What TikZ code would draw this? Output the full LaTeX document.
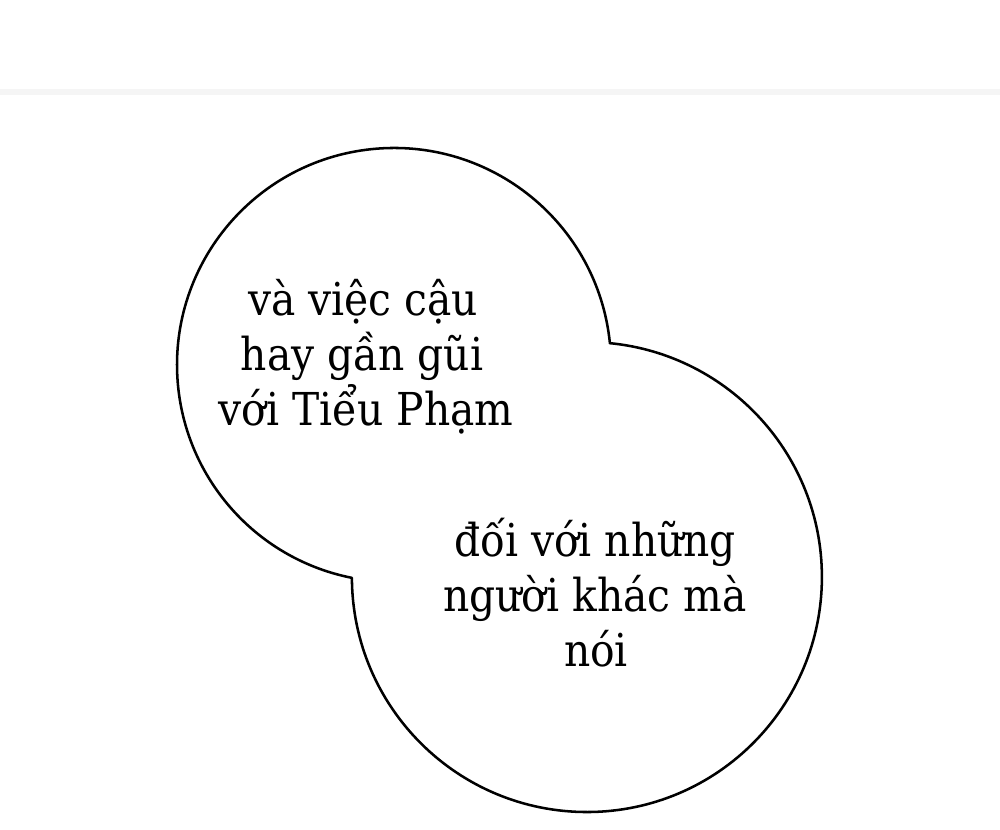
\documentclass[tikz,border=0pt]{standalone}
\usepackage{fontspec}
\setmainfont{DejaVu Serif}[FakeStretch=0.9]
\begin{document}
\begin{tikzpicture}[x=0.75pt,y=0.75pt,
  bubble/.style={draw=black,line width=1.9pt,fill=white,line join=round},
  said/.style={anchor=base,inner sep=0pt,font=\fontsize{34}{42}\selectfont,text=black}]
\fill[white] (0,0) rectangle (1000,830);
\useasboundingbox (0,0) rectangle (1000,830);
\draw[black!4,line width=4pt] (0,738) -- (1000,738);
% speech bubble: union of two circles
\coordinate (U) at (394,465);
\coordinate (L) at (587,253);
\coordinate (I1) at (609.9,486.9);
\path[bubble] (I1) arc[start angle=5.79,end angle=258.81,radius=217]
  arc[start angle=180.2,end angle=444.4,radius=235] -- cycle;
\node[said] (a1) at (363,514) {và việc cậu};
\node[said] (a2) at (362,459) {hay gần gũi};
\node[said] (a3) at (366,404) {với Tiểu Phạm};
\node[said] (b1) at (595,273) {đối với những};
\node[said] (b2) at (595,218) {người khác mà};
\node[said] (b3) at (596,163) {nói};
\end{tikzpicture}
\end{document}
